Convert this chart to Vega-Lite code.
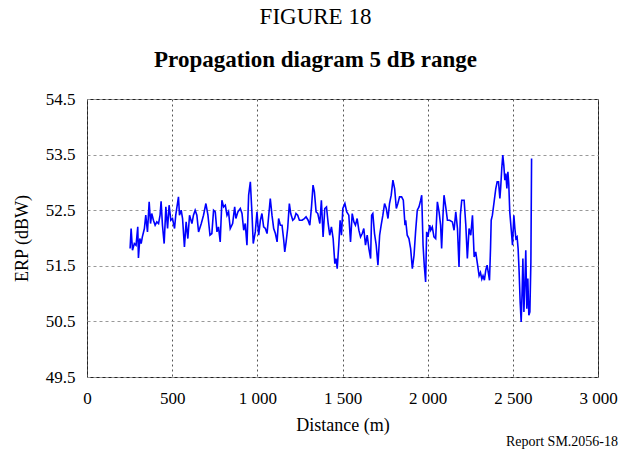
{
  "$schema": "https://vega.github.io/schema/vega-lite/v6.json",
  "autosize": "none",
  "width": 511,
  "height": 278,
  "padding": {"left": 87, "top": 99, "right": 23, "bottom": 73},
  "background": "white",
  "config": {
    "view": {"stroke": "#222", "strokeWidth": 1},
    "font": "Liberation Serif"
  },
  "title": {
    "text": "FIGURE 18",
    "subtitle": "Propagation diagram 5 dB range",
    "font": "Liberation Serif",
    "fontSize": 23,
    "fontWeight": "normal",
    "color": "black",
    "subtitleFont": "Liberation Serif",
    "subtitleFontSize": 23,
    "subtitleFontWeight": "bold",
    "subtitleColor": "black",
    "subtitlePadding": 20,
    "anchor": "middle",
    "dx": -27,
    "offset": 18
  },
  "datasets": {
    "erp": [
      {"d":253,"erp":51.81},{"d":259,"erp":52.17},{"d":267,"erp":51.78},{"d":278,"erp":51.90},{"d":288,"erp":51.87},{"d":298,"erp":52.20},{"d":302,"erp":51.64},{"d":310,"erp":51.99},{"d":318,"erp":51.90},{"d":325,"erp":52.02},
      {"d":337,"erp":52.17},{"d":345,"erp":52.41},{"d":355,"erp":52.11},{"d":365,"erp":52.65},{"d":373,"erp":52.26},{"d":380,"erp":52.44},{"d":390,"erp":52.32},{"d":400,"erp":52.23},{"d":410,"erp":52.29},{"d":420,"erp":52.26},
      {"d":429,"erp":52.41},{"d":435,"erp":52.66},{"d":443,"erp":52.23},{"d":453,"erp":51.90},{"d":463,"erp":52.56},{"d":473,"erp":52.17},{"d":482,"erp":52.59},{"d":492,"erp":52.32},{"d":502,"erp":52.35},{"d":514,"erp":52.17},
      {"d":521,"erp":52.41},{"d":537,"erp":52.74},{"d":543,"erp":52.41},{"d":553,"erp":52.50},{"d":561,"erp":52.35},{"d":572,"erp":51.84},{"d":582,"erp":52.29},{"d":592,"erp":51.99},{"d":602,"erp":52.41},{"d":616,"erp":52.26},
      {"d":625,"erp":52.41},{"d":635,"erp":52.50},{"d":645,"erp":52.41},{"d":655,"erp":52.11},{"d":671,"erp":52.26},{"d":684,"erp":52.41},{"d":698,"erp":52.62},{"d":710,"erp":52.41},{"d":722,"erp":52.05},{"d":733,"erp":52.08},
      {"d":743,"erp":52.50},{"d":753,"erp":52.47},{"d":763,"erp":52.11},{"d":772,"erp":52.20},{"d":782,"erp":51.93},{"d":792,"erp":52.68},{"d":802,"erp":52.56},{"d":812,"erp":52.59},{"d":822,"erp":52.41},{"d":831,"erp":52.47},
      {"d":841,"erp":52.17},{"d":855,"erp":52.26},{"d":867,"erp":52.56},{"d":874,"erp":52.35},{"d":886,"erp":52.47},{"d":900,"erp":52.53},{"d":910,"erp":52.44},{"d":920,"erp":52.14},{"d":929,"erp":52.26},{"d":939,"erp":51.87},
      {"d":949,"erp":52.77},{"d":959,"erp":53.01},{"d":969,"erp":52.41},{"d":976,"erp":51.90},{"d":988,"erp":52.11},{"d":998,"erp":52.47},{"d":1008,"erp":52.05},{"d":1018,"erp":52.32},{"d":1027,"erp":52.44},{"d":1037,"erp":52.20},
      {"d":1047,"erp":52.17},{"d":1057,"erp":52.08},{"d":1067,"erp":52.41},{"d":1076,"erp":52.71},{"d":1086,"erp":52.41},{"d":1096,"erp":52.17},{"d":1106,"erp":52.08},{"d":1116,"erp":51.93},{"d":1125,"erp":52.35},{"d":1135,"erp":52.23},
      {"d":1145,"erp":52.23},{"d":1155,"erp":51.96},{"d":1161,"erp":51.75},{"d":1169,"erp":51.93},{"d":1178,"erp":52.17},{"d":1188,"erp":52.62},{"d":1196,"erp":52.44},{"d":1208,"erp":52.32},{"d":1218,"erp":52.35},{"d":1227,"erp":52.44},
      {"d":1237,"erp":52.41},{"d":1247,"erp":52.32},{"d":1263,"erp":52.32},{"d":1276,"erp":52.35},{"d":1286,"erp":52.38},{"d":1298,"erp":52.32},{"d":1308,"erp":52.23},{"d":1318,"erp":52.56},{"d":1327,"erp":52.95},{"d":1335,"erp":52.83},
      {"d":1345,"erp":52.47},{"d":1355,"erp":52.44},{"d":1367,"erp":52.26},{"d":1376,"erp":52.68},{"d":1386,"erp":52.02},{"d":1396,"erp":52.53},{"d":1406,"erp":52.56},{"d":1416,"erp":52.26},{"d":1425,"erp":52.05},{"d":1435,"erp":52.20},
      {"d":1445,"erp":51.99},{"d":1455,"erp":51.54},{"d":1462,"erp":51.63},{"d":1469,"erp":51.45},{"d":1478,"erp":51.87},{"d":1486,"erp":52.32},{"d":1494,"erp":52.05},{"d":1502,"erp":52.53},{"d":1514,"erp":52.62},{"d":1525,"erp":52.47},
      {"d":1537,"erp":52.41},{"d":1547,"erp":51.93},{"d":1557,"erp":52.44},{"d":1567,"erp":52.29},{"d":1576,"erp":52.23},{"d":1586,"erp":52.35},{"d":1596,"erp":52.14},{"d":1606,"erp":52.02},{"d":1616,"erp":52.08},{"d":1625,"erp":52.17},
      {"d":1635,"erp":51.87},{"d":1645,"erp":52.05},{"d":1655,"erp":51.81},{"d":1665,"erp":51.63},{"d":1671,"erp":52.41},{"d":1678,"erp":52.44},{"d":1688,"erp":52.08},{"d":1698,"erp":51.87},{"d":1708,"erp":51.51},{"d":1718,"erp":52.05},
      {"d":1727,"erp":52.23},{"d":1737,"erp":52.41},{"d":1747,"erp":52.62},{"d":1757,"erp":52.53},{"d":1767,"erp":52.35},{"d":1776,"erp":52.62},{"d":1786,"erp":52.77},{"d":1796,"erp":53.04},{"d":1806,"erp":52.89},{"d":1816,"erp":52.53},
      {"d":1825,"erp":52.62},{"d":1835,"erp":52.74},{"d":1847,"erp":52.74},{"d":1857,"erp":52.68},{"d":1867,"erp":52.23},{"d":1871,"erp":52.32},{"d":1880,"erp":52.05},{"d":1890,"erp":51.99},{"d":1900,"erp":51.81},{"d":1910,"erp":51.45},
      {"d":1920,"erp":51.69},{"d":1929,"erp":52.11},{"d":1939,"erp":52.50},{"d":1949,"erp":52.56},{"d":1959,"erp":52.68},{"d":1965,"erp":52.77},{"d":1973,"erp":51.87},{"d":1980,"erp":51.51},{"d":1988,"erp":51.21},{"d":1994,"erp":52.11},
      {"d":2002,"erp":52.02},{"d":2012,"erp":52.23},{"d":2018,"erp":52.14},{"d":2027,"erp":52.20},{"d":2037,"erp":52.02},{"d":2047,"erp":51.99},{"d":2057,"erp":52.65},{"d":2067,"erp":52.47},{"d":2076,"erp":52.23},{"d":2082,"erp":51.81},
      {"d":2090,"erp":52.41},{"d":2096,"erp":52.77},{"d":2106,"erp":52.56},{"d":2116,"erp":52.32},{"d":2129,"erp":52.32},{"d":2145,"erp":52.29},{"d":2155,"erp":52.14},{"d":2165,"erp":52.47},{"d":2175,"erp":52.17},{"d":2184,"erp":51.48},
      {"d":2192,"erp":52.41},{"d":2200,"erp":52.68},{"d":2214,"erp":52.68},{"d":2224,"erp":52.23},{"d":2233,"erp":51.63},{"d":2243,"erp":52.17},{"d":2253,"erp":52.05},{"d":2263,"erp":52.41},{"d":2273,"erp":51.66},{"d":2282,"erp":51.75},
      {"d":2292,"erp":51.54},{"d":2302,"erp":51.32},{"d":2310,"erp":51.38},{"d":2318,"erp":51.26},{"d":2325,"erp":51.32},{"d":2333,"erp":51.24},{"d":2341,"erp":51.42},{"d":2349,"erp":51.51},{"d":2357,"erp":51.36},{"d":2363,"erp":51.24},
      {"d":2369,"erp":51.81},{"d":2373,"erp":52.32},{"d":2380,"erp":52.41},{"d":2390,"erp":52.65},{"d":2400,"erp":52.89},{"d":2408,"erp":53.01},{"d":2416,"erp":53.01},{"d":2424,"erp":52.71},{"d":2429,"erp":52.92},{"d":2435,"erp":53.25},
      {"d":2441,"erp":53.49},{"d":2447,"erp":53.31},{"d":2453,"erp":53.04},{"d":2459,"erp":53.16},{"d":2465,"erp":52.89},{"d":2471,"erp":53.19},{"d":2476,"erp":52.98},{"d":2482,"erp":52.47},{"d":2490,"erp":52.17},{"d":2498,"erp":51.87},
      {"d":2506,"erp":52.41},{"d":2512,"erp":52.17},{"d":2518,"erp":51.99},{"d":2525,"erp":52.02},{"d":2531,"erp":51.81},{"d":2537,"erp":51.39},{"d":2543,"erp":50.85},{"d":2549,"erp":50.49},{"d":2555,"erp":51.09},{"d":2559,"erp":51.63},
      {"d":2565,"erp":50.67},{"d":2571,"erp":51.21},{"d":2576,"erp":51.78},{"d":2582,"erp":50.73},{"d":2588,"erp":51.27},{"d":2594,"erp":50.61},{"d":2600,"erp":50.67},{"d":2606,"erp":51.57},{"d":2610,"erp":53.43}
    ],
    "note": [{"d": 3000, "erp": 49.5, "label": "Report SM.2056-18"}]
  },
  "layer": [
    {
      "data": {"name": "erp"},
      "mark": {"type": "line", "color": "#0000ff", "strokeWidth": 1.6, "interpolate": "linear"},
      "encoding": {
        "x": {
          "field": "d", "type": "quantitative",
          "scale": {"domain": [0, 3000], "nice": false, "zero": false},
          "axis": {
            "title": "Distance (m)",
            "values": [0, 500, 1000, 1500, 2000, 2500, 3000],
            "labelExpr": "replace(format(datum.value, ','), ',', ' ')",
            "labelFont": "Liberation Serif", "labelFontSize": 17, "labelColor": "black",
            "labelPadding": 13, "labelFlush": false, "labelOverlap": false,
            "titleFont": "Liberation Serif", "titleFontSize": 18, "titleFontWeight": "normal", "titleColor": "black",
            "titlePadding": 10,
            "domain": false, "ticks": false,
            "grid": true, "gridColor": "#555", "gridDash": [2, 3], "gridWidth": 1
          }
        },
        "y": {
          "field": "erp", "type": "quantitative",
          "scale": {"domain": [49.5, 54.5], "nice": false, "zero": false},
          "axis": {
            "title": "ERP (dBW)",
            "values": [49.5, 50.5, 51.5, 52.5, 53.5, 54.5],
            "format": ".1f",
            "labelFont": "Liberation Serif", "labelFontSize": 17, "labelColor": "black",
            "labelPadding": 12, "labelFlush": false, "labelOverlap": false,
            "titleFont": "Liberation Serif", "titleFontSize": 18, "titleFontWeight": "normal", "titleColor": "black",
            "titlePadding": 14,
            "domain": false, "ticks": false,
            "grid": true, "gridColor": "#999", "gridDash": [3, 3], "gridWidth": 1
          }
        }
      }
    },
    {
      "data": {"name": "note"},
      "mark": {"type": "text", "align": "right", "baseline": "middle", "font": "Liberation Serif", "fontSize": 14, "color": "black", "dx": 20, "dy": 65},
      "encoding": {
        "x": {"field": "d", "type": "quantitative"},
        "y": {"field": "erp", "type": "quantitative"},
        "text": {"field": "label"}
      }
    }
  ]
}
